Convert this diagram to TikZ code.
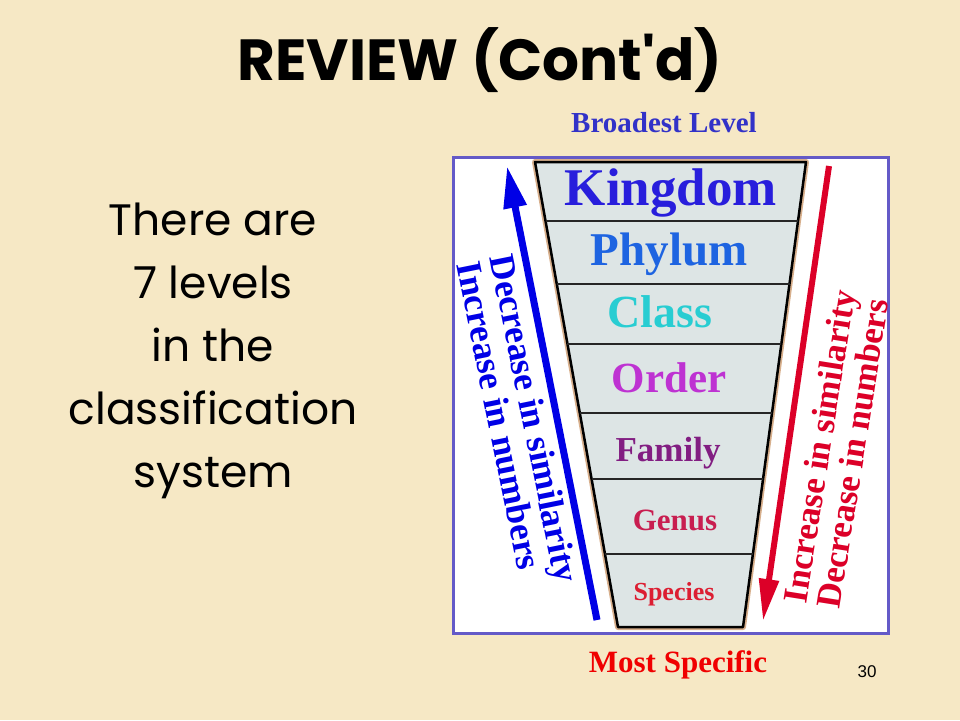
\documentclass[tikz,border=0pt]{standalone}
\usepackage{fontspec}
\setmainfont{Liberation Serif}
\newfontfamily\handfont{Poppins}
\newfontfamily\numfont{Liberation Sans}
\usepackage{tikz}
\usetikzlibrary{arrows.meta,calc}

\definecolor{paper}{RGB}{246,232,197}
\definecolor{framecol}{RGB}{100,90,200}
\definecolor{funnelfill}{RGB}{221,229,229}
\definecolor{funneledge}{RGB}{215,175,140}
\definecolor{kingdomcol}{RGB}{40,30,220}
\definecolor{phylumcol}{RGB}{30,100,225}
\definecolor{classcol}{RGB}{40,205,210}
\definecolor{ordercol}{RGB}{190,50,210}
\definecolor{familycol}{RGB}{130,30,130}
\definecolor{genuscol}{RGB}{200,30,80}
\definecolor{speciescol}{RGB}{220,30,50}
\definecolor{upblue}{RGB}{0,0,230}
\definecolor{downred}{RGB}{220,0,40}
\definecolor{broadcol}{RGB}{50,50,200}
\definecolor{mostcol}{RGB}{240,0,0}

\tikzset{
    level/.style={anchor=base, inner sep=0pt},
    sidetext/.style={inner sep=0pt, align=left},
    divider/.style={line width=2.5pt, black!85}
}

\begin{document}
\begin{tikzpicture}[x=1pt, y=-1pt]
    \useasboundingbox (0,0) rectangle (960,720);
    \fill[paper] (0,0) rectangle (960,720);

    % heading and left text
    \node[font=\handfont\bfseries\fontsize{58}{62}\selectfont] (title) at (480,60) {REVIEW (Cont'd)};
    \node[align=center, font=\handfont\fontsize{44}{63}\selectfont] (intro) at (213,351)
        {There are\\ 7 levels\\ in the\\ classification\\ system};

    \node[text=broadcol, font=\bfseries\fontsize{29}{30}\selectfont] (broad) at (664,123) {Broadest Level};
    \node[text=mostcol, font=\bfseries\fontsize{31}{32}\selectfont] (most) at (678,665) {Most Specific};
    \node[font=\numfont\fontsize{17}{18}\selectfont] (page) at (867,672) {30};

    % picture frame
    \draw[framecol, fill=white, line width=3pt] (453,157) rectangle (888,633);

    % funnel
    \coordinate (tl) at (535,162);
    \coordinate (tr) at (806,162);
    \coordinate (br) at (743,627);
    \coordinate (bl) at (618,627);
    \draw[funneledge, line width=6pt, line join=round] (tl) -- (tr) -- (br) -- (bl) -- cycle;
    \draw[black, fill=funnelfill, line width=2.5pt, line join=round] (tl) -- (tr) -- (br) -- (bl) -- cycle;

    \draw[divider] ($(tl)!0.127!(bl)$) -- ($(tr)!0.127!(br)$);
    \draw[divider] ($(tl)!0.262!(bl)$) -- ($(tr)!0.262!(br)$);
    \draw[divider] ($(tl)!0.391!(bl)$) -- ($(tr)!0.391!(br)$);
    \draw[divider] ($(tl)!0.540!(bl)$) -- ($(tr)!0.540!(br)$);
    \draw[divider] ($(tl)!0.682!(bl)$) -- ($(tr)!0.682!(br)$);
    \draw[divider] ($(tl)!0.843!(bl)$) -- ($(tr)!0.843!(br)$);

    % levels
    \node[level, text=kingdomcol, font=\bfseries\fontsize{53}{55}\selectfont] (kingdom) at (671,205) {Kingdom};
    \node[level, text=phylumcol, font=\bfseries\fontsize{47}{50}\selectfont] (phylum) at (669,265) {Phylum};
    \node[level, text=classcol, font=\bfseries\fontsize{46}{48}\selectfont] (class) at (660,327) {Class};
    \node[level, text=ordercol, font=\bfseries\fontsize{43}{45}\selectfont] (order) at (669,392) {Order};
    \node[level, text=familycol, font=\bfseries\fontsize{35}{37}\selectfont] (family) at (668,461) {Family};
    \node[level, text=genuscol, font=\bfseries\fontsize{31}{33}\selectfont] (genus) at (675,530) {Genus};
    \node[level, text=speciescol, font=\bfseries\fontsize{26}{28}\selectfont] (species) at (674,600) {Species};

    % side arrows
    \coordinate (blueTail) at (597,620);
    \coordinate (blueTip) at (507,166);
    \coordinate (redTail) at (829,166);
    \coordinate (redTip) at (763,621);
    \draw[upblue, line width=7pt, -{Triangle[width=22pt, length=42pt]}] (blueTail) -- (blueTip);
    \draw[downred, line width=6pt, -{Triangle[width=19pt, length=42pt]}] (redTail) -- (redTip);

    \node[sidetext, text=upblue, rotate=-78.6, font=\bfseries\fontsize{36}{34}\selectfont] (bluetext) at (518,422) {Decrease in similarity\\ Increase in numbers};
    \node[sidetext, text=downred, rotate=81, font=\bfseries\fontsize{35}{34}\selectfont] (redtext) at (836,449) {Increase in similarity\\ Decrease in numbers};
\end{tikzpicture}
\end{document}
